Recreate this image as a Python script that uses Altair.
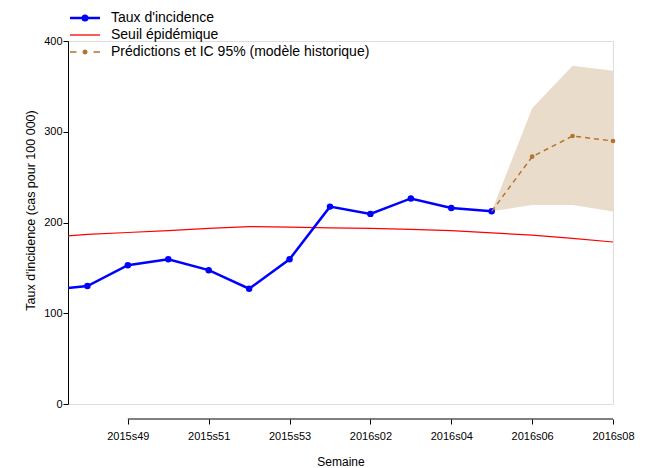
import json
import altair as alt
import pandas as pd

# ---- data ----
weeks = ["2015s47", "2015s48", "2015s49", "2015s50", "2015s51", "2015s52", "2015s53",
         "2016s01", "2016s02", "2016s03", "2016s04", "2016s05", "2016s06", "2016s07", "2016s08"]
incidence = [125.4, 130, 153, 159.5, 147.5, 127, 159.5, 217.5, 209.5, 226.5, 216, 212.3]
threshold = [183.5, 187, 189, 191, 193.5, 195.5, 195, 194, 193.5, 192.5, 191, 188.5, 186, 182.5, 178.5]
pred_weeks = ["2016s05", "2016s06", "2016s07", "2016s08"]
pred_mean = [212.3, 272.5, 295.3, 289.8]
pred_low = [212.3, 219.3, 219.3, 212]
pred_high = [212.3, 325.8, 372.8, 367.3]
tick_weeks = ["2015s49", "2015s51", "2015s53", "2016s02", "2016s04", "2016s06", "2016s08"]
y_ticks = [0, 100, 200, 300, 400]
series_names = ["Taux d'incidence", "Seuil épidémique", "Prédictions et IC 95% (modèle historique)"]

# ---- styling ----
BLUE, RED, BROWN, BAND = "#0000ff", "#ff0000", "#b5732e", "#e9dccb"
FONT = "Liberation Sans"
W, H = 545, 363

idx = {w: i for i, w in enumerate(weeks)}
obs = pd.DataFrame({"i": [idx[w] for w in weeks[:len(incidence)]], "v": incidence})
thr = pd.DataFrame({"i": list(range(len(weeks))), "v": threshold})
pred = pd.DataFrame({"i": [idx[w] for w in pred_weeks], "v": pred_mean,
                     "lo": pred_low, "hi": pred_high})
axis_line = pd.DataFrame({"i": [idx[tick_weeks[0]]], "i2": [idx[tick_weeks[-1]]]})
leg = pd.DataFrame({"series": series_names})

x_scale = alt.Scale(domain=[0.52, idx[tick_weeks[-1]]], nice=False, zero=False)
y_scale = alt.Scale(domain=[y_ticks[0], y_ticks[-1]], nice=False, zero=True)

x_axis = alt.Axis(values=[idx[w] for w in tick_weeks],
                  labelExpr=json.dumps(weeks) + "[datum.value]",
                  domain=False, grid=False, offset=15, tickSize=5, tickColor="black",
                  labelFontSize=11, labelColor="black", labelFont=FONT, labelPadding=6,
                  titleFont=FONT, titleFontSize=12, titleFontWeight="normal",
                  titleColor="black", titlePadding=15, labelFlush=False)
y_axis = alt.Axis(values=y_ticks, grid=False, tickSize=5, tickColor="black",
                  domainColor="black", labelFontSize=11, labelColor="black", labelFont=FONT,
                  labelPadding=1, titleFont=FONT, titleFontSize=12.5, titleFontWeight="normal",
                  titleColor="black", titlePadding=6, titleY=169, labelFlush=False)
XT = "Semaine"
YT = "Taux d'incidence (cas pour 100 000)"


def X(f="i"):
    return alt.X(f + ":Q", scale=x_scale, axis=x_axis, title=XT)


def Y(f="v"):
    return alt.Y(f + ":Q", scale=y_scale, axis=y_axis, title=YT)


band = alt.Chart(pred).mark_area(color=BAND, opacity=1).encode(x=X(), y=Y("lo"), y2="hi:Q")
red = alt.Chart(thr).mark_line(color=RED, strokeWidth=1.2, clip=True).encode(x=X(), y=Y())
blue = alt.Chart(obs).mark_line(color=BLUE, strokeWidth=2.5, clip=True).encode(x=X(), y=Y())
blue_pts = alt.Chart(obs).mark_circle(color=BLUE, size=42, opacity=1, clip=True).encode(x=X(), y=Y())
pred_line = alt.Chart(pred).mark_line(color=BROWN, strokeWidth=1.5, strokeDash=[5, 4]).encode(x=X(), y=Y())
pred_pts = alt.Chart(pred).transform_filter(alt.datum.i > idx[pred_weeks[0]]).mark_circle(
    color=BROWN, size=22, opacity=1).encode(x=X(), y=Y())
xline = alt.Chart(axis_line).mark_rule(color="black", strokeWidth=1).encode(
    x=X(), x2="i2:Q", y=alt.value(H + 15))

# legend symbols (unit = 5 px with symbolSize 100)
def circ(r):
    return f"M{-r},0a{r},{r} 0 1,0 {2*r},0a{r},{r} 0 1,0 {-2*r},0"

sym_blue = "M-3,-0.12H3M-3,0H3M-3,0.12H3" + circ(0.57) + circ(0.32) + circ(0.08)
sym_red = "M-3,0H3"
sym_brown = "M-3,0H-1.7M1.7,0H3" + circ(0.37) + circ(0.13)

legend = alt.Legend(title=None, orient="none", legendX=10, legendY=-30, padding=0,
                    symbolSize=100, symbolStrokeWidth=1.3, labelFont=FONT, labelFontSize=14,
                    labelColor="black", labelOffset=19, rowPadding=3, labelLimit=400)
leg_layer = alt.Chart(leg).transform_filter("false").mark_point(filled=False, opacity=1).encode(
    color=alt.Color("series:N", scale=alt.Scale(domain=series_names, range=[BLUE, RED, BROWN]),
                    legend=legend),
    shape=alt.Shape("series:N", scale=alt.Scale(domain=series_names,
                                                range=[sym_blue, sym_red, sym_brown]),
                    legend=legend),
)

chart = alt.layer(band, red, blue, blue_pts, pred_line, pred_pts, xline, leg_layer).properties(
    width=W, height=H,
    autosize=alt.AutoSizeParams(type="none"),
    padding={"left": 60, "top": 33, "right": 36, "bottom": 64},
).configure_view(stroke="transparent").configure(font=FONT)

chart.save("out.html", embed_options={"renderer": "svg", "actions": False})
